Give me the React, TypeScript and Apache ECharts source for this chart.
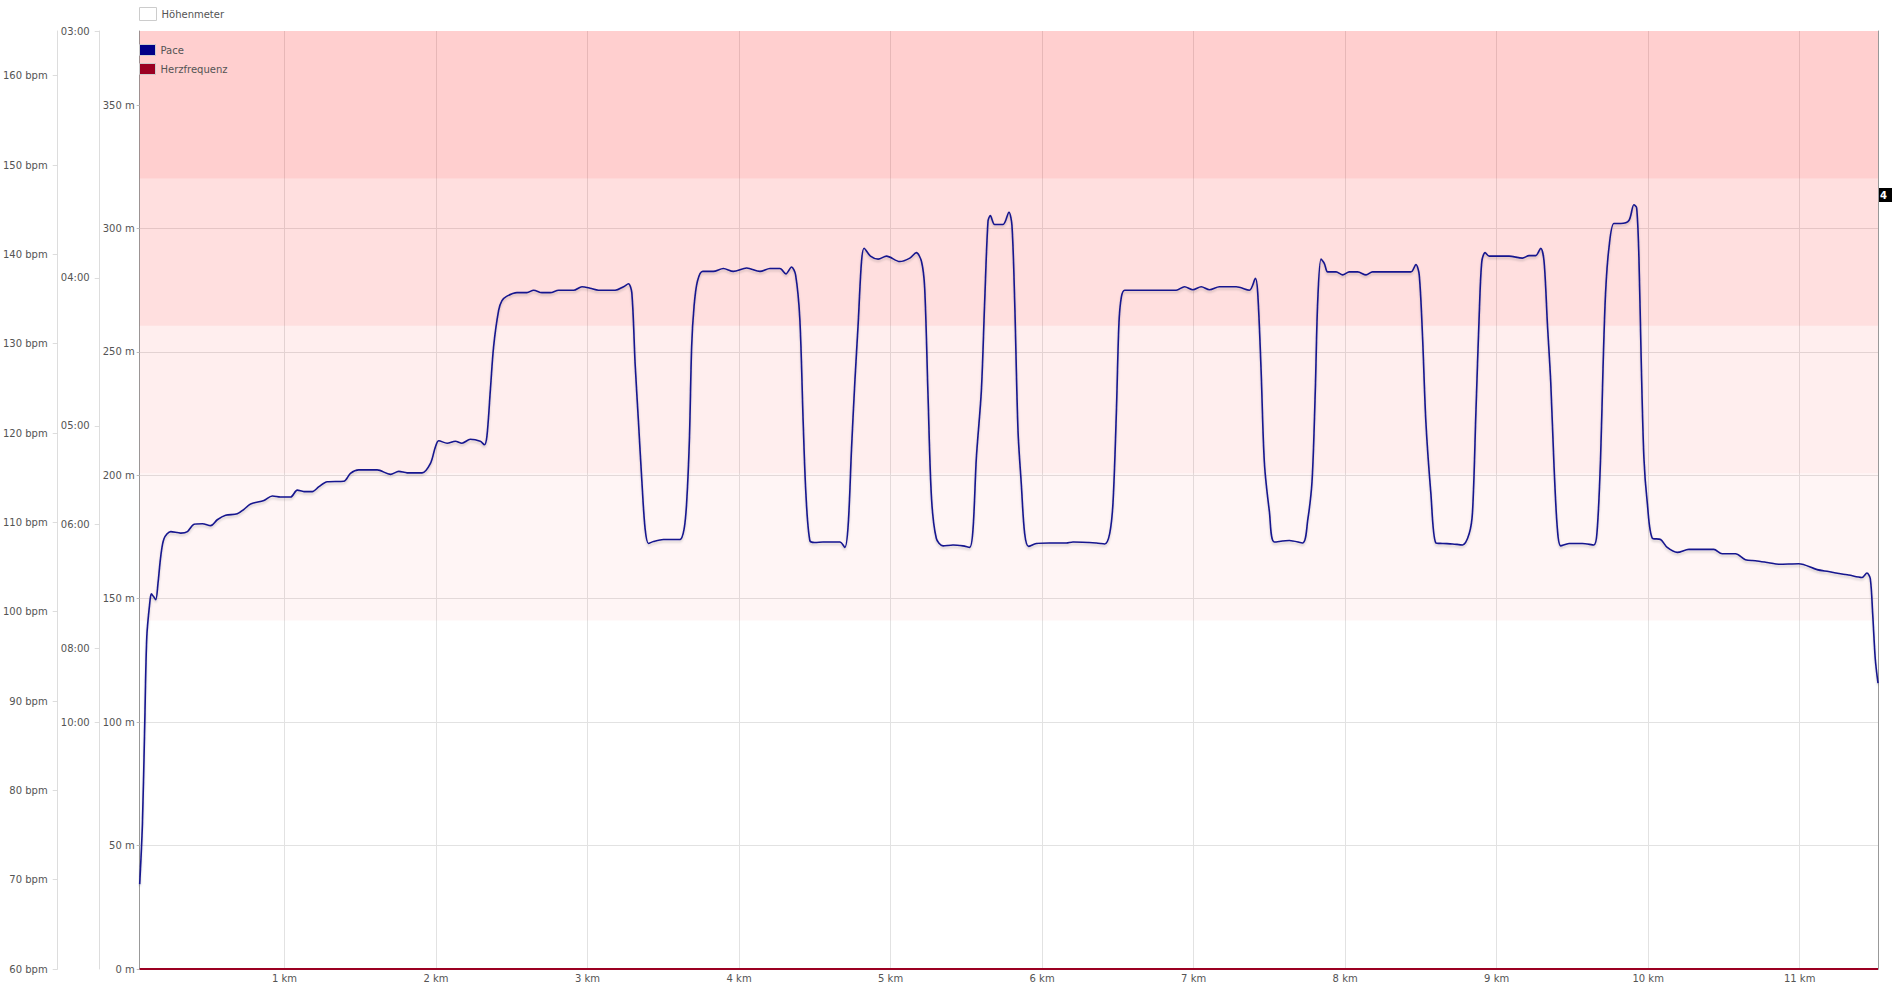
import React, { useEffect, useRef } from "react";
import * as echarts from "echarts";

// ---- data ----
const distanceKm = [
  0.044, 0.062, 0.077, 0.091, 0.112, 0.121, 0.134, 0.15, 0.165, 0.183, 0.205, 0.249, 0.315, 0.359, 0.403, 0.458,
  0.512, 0.556, 0.611, 0.688, 0.732, 0.776, 0.864, 0.919, 0.974, 1.04, 1.084, 1.128, 1.183, 1.227, 1.282, 1.391,
  1.435, 1.49, 1.611, 1.699, 1.754, 1.809, 1.908, 1.963, 1.996, 2.018, 2.073, 2.127, 2.171, 2.226, 2.292, 2.319,
  2.336, 2.358, 2.38, 2.413, 2.435, 2.468, 2.534, 2.6, 2.644, 2.699, 2.754, 2.809, 2.908, 2.963, 3.017, 3.072,
  3.182, 3.237, 3.27, 3.292, 3.314, 3.336, 3.358, 3.38, 3.402, 3.435, 3.501, 3.567, 3.61, 3.637, 3.654, 3.672,
  3.687, 3.703, 3.725, 3.76, 3.83, 3.896, 3.962, 4.05, 4.138, 4.204, 4.27, 4.309, 4.346, 4.373, 4.401, 4.423,
  4.441, 4.467, 4.5, 4.555, 4.665, 4.698, 4.72, 4.742, 4.764, 4.786, 4.808, 4.825, 4.867, 4.918, 4.973, 5.061,
  5.127, 5.17, 5.204, 5.225, 5.247, 5.27, 5.302, 5.346, 5.412, 5.478, 5.522, 5.544, 5.566, 5.599, 5.621, 5.643,
  5.658, 5.687, 5.742, 5.781, 5.801, 5.819, 5.841, 5.863, 5.885, 5.911, 5.962, 6.05, 6.159, 6.204, 6.358, 6.413,
  6.446, 6.468, 6.49, 6.507, 6.523, 6.545, 6.643, 6.753, 6.885, 6.94, 6.995, 7.05, 7.105, 7.171, 7.281, 7.368,
  7.408, 7.423, 7.445, 7.467, 7.5, 7.533, 7.632, 7.72, 7.753, 7.782, 7.803, 7.819, 7.841, 7.863, 7.885, 7.94,
  7.984, 8.028, 8.083, 8.138, 8.181, 8.291, 8.434, 8.467, 8.489, 8.511, 8.533, 8.566, 8.599, 8.643, 8.709, 8.775,
  8.819, 8.841, 8.863, 8.885, 8.902, 8.924, 8.951, 9.082, 9.17, 9.214, 9.258, 9.291, 9.313, 9.335, 9.357, 9.379,
  9.401, 9.423, 9.478, 9.565, 9.642, 9.664, 9.686, 9.702, 9.719, 9.741, 9.774, 9.818, 9.873, 9.906, 9.924, 9.939,
  9.954, 9.972, 9.994, 10.027, 10.082, 10.126, 10.192, 10.269, 10.357, 10.433, 10.488, 10.576, 10.642, 10.708,
  10.796, 10.862, 10.994, 11.115, 11.191, 11.279, 11.323, 11.411, 11.444, 11.466, 11.482, 11.499, 11.517,
];
// Pace, stored as speed (km/h) – the pace axis is linear in speed
const speedKmh = [
  2.72, 3.94, 5.93, 7.74, 8.46, 8.6, 8.55, 8.48, 8.82, 9.36, 9.72, 9.86, 9.83, 9.86, 10.01, 10.02,
  9.98, 10.1, 10.19, 10.22, 10.31, 10.42, 10.49, 10.58, 10.56, 10.56, 10.7, 10.67, 10.67, 10.77, 10.87, 10.88,
  11.04, 11.11, 11.11, 11.02, 11.08, 11.05, 11.05, 11.24, 11.58, 11.7, 11.65, 11.69, 11.65, 11.73, 11.69, 11.62,
  11.8, 12.71, 13.61, 14.34, 14.54, 14.63, 14.7, 14.7, 14.75, 14.7, 14.7, 14.75, 14.75, 14.82, 14.79, 14.75,
  14.75, 14.82, 14.88, 14.7, 13.25, 12.08, 10.9, 9.91, 9.62, 9.66, 9.7, 9.7, 9.7, 9.91, 10.45, 11.71,
  13.61, 14.43, 14.93, 15.13, 15.13, 15.19, 15.13, 15.2, 15.13, 15.19, 15.19, 15.08, 15.22, 15.06, 14.16, 12.08,
  10.63, 9.68, 9.64, 9.65, 9.65, 9.54, 9.99, 11.53, 12.89, 14.07, 15.33, 15.6, 15.44, 15.38, 15.44, 15.33,
  15.4, 15.51, 15.33, 14.79, 12.62, 10.54, 9.72, 9.57, 9.59, 9.57, 9.54, 9.91, 11.35, 12.71, 14.52, 16.15,
  16.26, 16.08, 16.08, 16.33, 16.06, 14.52, 11.9, 10.81, 9.82, 9.56, 9.62, 9.63, 9.63, 9.65, 9.63, 9.61,
  9.82, 10.45, 12.26, 14.07, 14.61, 14.75, 14.75, 14.75, 14.75, 14.82, 14.76, 14.82, 14.76, 14.82, 14.82, 14.75,
  14.99, 14.7, 13.16, 11.26, 10.27, 9.65, 9.68, 9.63, 10.09, 10.9, 12.71, 14.52, 15.38, 15.29, 15.12, 15.12,
  15.06, 15.12, 15.12, 15.06, 15.12, 15.12, 15.12, 15.27, 15.06, 13.8, 12.08, 10.63, 9.63, 9.62, 9.61, 9.59,
  9.82, 10.27, 12.26, 14.25, 15.33, 15.51, 15.44, 15.44, 15.4, 15.45, 15.45, 15.6, 15.33, 14.07, 12.89, 11.17,
  9.91, 9.57, 9.62, 9.62, 9.59, 9.91, 11.35, 13.16, 14.7, 15.6, 16.1, 16.1, 16.16, 16.48, 16.42, 15.42,
  13.34, 11.35, 10.45, 9.73, 9.7, 9.54, 9.44, 9.5, 9.5, 9.5, 9.41, 9.41, 9.29, 9.27,
  9.23, 9.2, 9.21, 9.09, 9.05, 9.0, 8.98, 8.93, 9.02, 8.91, 8.19, 7.28, 6.79,
];
const hrDistanceKm = [0.044, 11.517];
const heartRateBpm = [60, 60];
const zoneBoundsBpm = [99, 115.5, 132, 148.5, 165];
const zoneAlpha = [0.04, 0.067, 0.125, 0.19];
const bpmTicks = [60, 70, 80, 90, 100, 110, 120, 130, 140, 150, 160];
const paceTicksKmh = [20, 15, 12, 10, 7.5, 6];
const altitudeTicks = [0, 50, 100, 150, 200, 250, 300, 350];
const seriesNames = ["Höhenmeter", "Pace", "Herzfrequenz"];
const zoneTag = "4";

const FONT = "Tahoma, 'DejaVu Sans', sans-serif";
const TXT = "#545454";

function paceLabel(kmh: number): string {
  const sec = Math.round(3600 / kmh);
  const m = Math.floor(sec / 60);
  const s = sec % 60;
  return String(m).padStart(2, "0") + ":" + String(s).padStart(2, "0");
}

export default function App() {
  const ref = useRef<HTMLDivElement>(null);
  useEffect(() => {
    if (!ref.current) return;
    const chart = echarts.init(ref.current, null, { renderer: "svg" });
    const paceData = distanceKm.map((d, i) => [d, speedKmh[i]]);
    const hrData = hrDistanceKm.map((d, i) => [d, heartRateBpm[i]]);
    const zones = zoneAlpha.map((a, i) => [
      { yAxis: zoneBoundsBpm[i], itemStyle: { color: `rgba(255,0,0,${a})` } },
      { yAxis: zoneBoundsBpm[i + 1] },
    ]);
    const labelBase = { fontFamily: FONT, fontSize: 10, color: TXT };
    chart.setOption({
      animation: false,
      textStyle: { fontFamily: FONT },
      grid: { left: 137, top: 31, width: 1741, height: 938, containLabel: false },
      legend: [
        {
          data: [{ name: seriesNames[0], itemStyle: { color: "#fff" } }],
          left: 139,
          top: 7,
          padding: 0,
          icon: "rect",
          itemWidth: 17,
          itemHeight: 13,
          itemStyle: { borderColor: "#ccc", borderWidth: 1 },
          textStyle: labelBase,
          selectedMode: false,
        },
        {
          data: [seriesNames[1], seriesNames[2]],
          left: 139,
          top: 44,
          padding: 0,
          orient: "vertical",
          icon: "rect",
          itemWidth: 16,
          itemHeight: 11,
          itemGap: 7,
          itemStyle: { borderColor: "#ccc", borderWidth: 1 },
          textStyle: labelBase,
          selectedMode: false,
        },
      ],
      xAxis: {
        type: "value",
        min: 0.044,
        max: 11.517,
        splitNumber: 11,
        axisLine: { show: true, lineStyle: { color: "#999" } },
        axisTick: { show: false },
        axisLabel: {
          ...labelBase,
          margin: 4,
          formatter: (v: number) => (Math.abs(v - Math.round(v)) < 1e-6 ? `${Math.round(v)} km` : ""),
        },
        splitLine: { show: true, showMinLine: false, showMaxLine: false, lineStyle: { color: "#e2e2e2" } },
      },
      yAxis: [
        {
          type: "value",
          position: "left",
          offset: 82,
          min: 60,
          max: 165,
          axisLine: { show: true, lineStyle: { color: "#ddd" } },
          axisTick: { show: true, length: 5, customValues: bpmTicks, lineStyle: { color: "#ddd" } },
          axisLabel: { ...labelBase, margin: 10, customValues: bpmTicks, formatter: "{value} bpm" },
          splitLine: { show: false },
        },
        {
          type: "value",
          position: "left",
          offset: 40,
          min: 1,
          max: 20,
          axisLine: { show: true, lineStyle: { color: "#ddd" } },
          axisTick: { show: true, length: 5, customValues: paceTicksKmh, lineStyle: { color: "#ddd" } },
          axisLabel: { ...labelBase, margin: 10, customValues: paceTicksKmh, formatter: (v: number) => paceLabel(v) },
          splitLine: { show: false },
        },
        {
          type: "value",
          position: "left",
          offset: 0,
          min: 0,
          max: 380,
          interval: 50,
          axisLine: { show: true, lineStyle: { color: "#999" } },
          axisTick: { show: true, length: 3, customValues: altitudeTicks, lineStyle: { color: "#bbb" } },
          axisLabel: { ...labelBase, margin: 5, customValues: altitudeTicks, formatter: "{value} m" },
          splitLine: { show: true, showMinLine: false, showMaxLine: false, lineStyle: { color: "#e2e2e2" } },
        },
        {
          type: "value",
          position: "right",
          offset: 0,
          min: 0,
          max: 1,
          axisLine: { show: true, lineStyle: { color: "#999" } },
          axisTick: { show: false },
          axisLabel: { show: false },
          splitLine: { show: false },
        },
      ],
      series: [
        {
          name: seriesNames[0],
          type: "line",
          yAxisIndex: 2,
          data: [],
          color: "#fff",
          showSymbol: false,
        },
        {
          name: seriesNames[2],
          type: "line",
          yAxisIndex: 0,
          data: hrData,
          color: "#9b0022",
          showSymbol: false,
          lineStyle: { width: 2, color: "#9b0022" },
          markArea: { silent: true, data: zones },
          z: 2,
        },
        {
          name: seriesNames[1],
          type: "line",
          yAxisIndex: 1,
          data: paceData,
          color: "#000088",
          showSymbol: false,
          smooth: 0.3,
          lineStyle: {
            width: 1.6,
            color: "#16168e",
            shadowColor: "rgba(0,0,0,0.18)",
            shadowBlur: 2,
            shadowOffsetY: 2,
          },
          z: 3,
        },
      ],
      graphic: [
        {
          type: "group",
          left: 1878,
          top: 188,
          children: [
            { type: "rect", shape: { x: 0, y: 0, width: 14, height: 14 }, style: { fill: "#000" } },
            {
              type: "text",
              x: 2,
              y: 2,
              style: { text: zoneTag, fill: "#fff", font: `bold 10px ${FONT}` },
            },
          ],
        },
      ],
    });
    return () => chart.dispose();
  }, []);
  return (
    <div
      ref={ref}
      style={{ position: "fixed", left: 0, top: 0, width: 1893, height: 985, background: "#fff" }}
    />
  );
}
